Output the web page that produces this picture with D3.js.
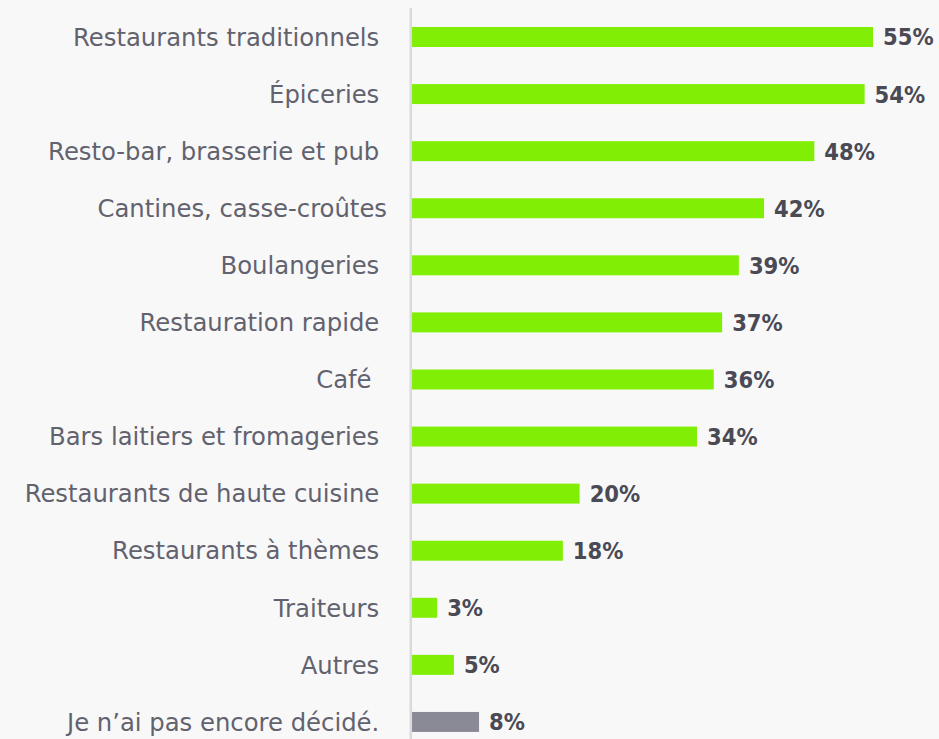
<!DOCTYPE html>
<html>
<head>
<meta charset="utf-8">
<script src="https://cdn.jsdelivr.net/npm/d3@7"></script>
<style>
  html, body { margin: 0; padding: 0; background: #f8f8f8; }
  svg { display: block; }
  text { white-space: pre; }
</style>
</head>
<body>
<svg id="chart" width="939" height="739"></svg>
<script>
const categories = [
  "Restaurants traditionnels ",
  "Épiceries ",
  "Resto-bar, brasserie et pub ",
  "Cantines, casse-croûtes",
  "Boulangeries ",
  "Restauration rapide ",
  "Café  ",
  "Bars laitiers et fromageries ",
  "Restaurants de haute cuisine ",
  "Restaurants à thèmes ",
  "Traiteurs ",
  "Autres ",
  "Je n’ai pas encore décidé. "
];
const values = [55, 54, 48, 42, 39, 37, 36, 34, 20, 18, 3, 5, 8];
const highlight = [false, false, false, false, false, false, false, false, false, false, false, false, true];

const W = 939, H = 739;
const svg = d3.select("#chart");
svg.append("rect").attr("width", W).attr("height", H).attr("fill", "#f8f8f8");

const x = d3.scaleLinear().domain([0, 55]).range([412, 873]);
const y = d3.scaleBand()
  .domain(categories)
  .range([8.45, 8.45 + 57.08 * 13])
  .paddingInner(0.65)
  .paddingOuter(0.325);

const data = categories.map((c, i) => ({ c, v: values[i], h: highlight[i] }));

// bars
svg.append("g").selectAll("rect")
  .data(data).join("rect")
  .attr("x", x(0))
  .attr("y", d => y(d.c))
  .attr("width", d => x(d.v) - x(0))
  .attr("height", y.bandwidth())
  .attr("fill", d => d.h ? "#8a8a96" : "#80ef05");

// axis line
const axis = d3.axisLeft(y).tickSize(0).tickPadding(0).tickFormat("");
const ag = svg.append("g").attr("transform", `translate(${x(0) - 1.2},0)`).call(axis);
ag.select(".domain").remove();
ag.append("line")
  .attr("x1", 0).attr("x2", 0)
  .attr("y1", 8).attr("y2", H)
  .attr("stroke", "#d9d9de").attr("stroke-width", 2.5);

// category labels
svg.append("g").selectAll("text")
  .data(data).join("text")
  .attr("x", 387)
  .attr("y", d => y(d.c) + y.bandwidth() / 2)
  .attr("dy", "0.36em")
  .attr("text-anchor", "end")
  .attr("font-family", "'DejaVu Sans', sans-serif")
  .attr("font-size", 24.3)
  .attr("fill", "#62626f")
  .text(d => d.c);

// value labels
svg.append("g").selectAll("text")
  .data(data).join("text")
  .attr("x", d => x(d.v) + 10)
  .attr("y", d => y(d.c) + y.bandwidth() / 2)
  .attr("dy", "0.36em")
  .attr("font-family", "'DejaVu Sans Condensed', 'DejaVu Sans', sans-serif")
  .attr("font-weight", "bold")
  .attr("font-size", 23.5)
  .attr("fill", "#4a4a55")
  .text(d => d.v + "%");
</script>
</body>
</html>
